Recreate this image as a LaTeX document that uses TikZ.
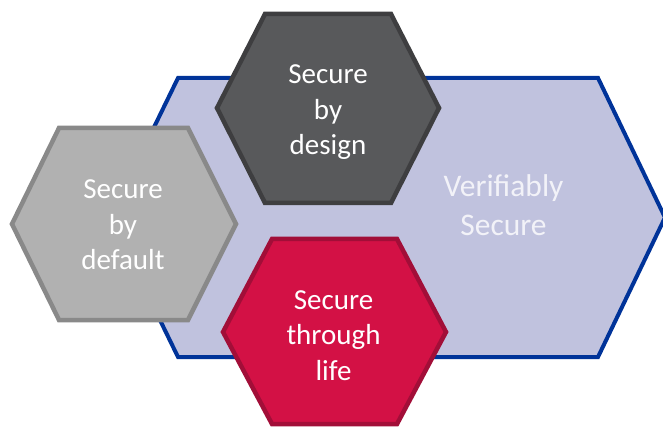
\documentclass[tikz,border=0pt]{standalone}
\usepackage{fontspec}
\setmainfont{Carlito}
\definecolor{lavfill}{RGB}{192,194,222}
\definecolor{lavline}{RGB}{0,51,153}
\definecolor{darkfill}{RGB}{88,89,91}
\definecolor{darkline}{RGB}{62,62,64}
\definecolor{grayfill}{RGB}{177,177,177}
\definecolor{grayline}{RGB}{137,137,137}
\definecolor{redfill}{RGB}{211,17,69}
\definecolor{redline}{RGB}{162,14,56}
\definecolor{paletext}{RGB}{242,242,248}
\begin{document}
\begin{tikzpicture}[x=1pt,y=-1pt,
  hexa/.style={line width=4.5pt,line join=miter},
  lbl/.style={anchor=base,align=center,inner sep=0pt,text=white,font=\fontsize{29}{35.5}\selectfont},
  lblv/.style={anchor=base,align=center,inner sep=0pt,text=paletext,font=\fontsize{31.5}{39}\selectfont}]
\useasboundingbox (0,0) rectangle (663,427);
% large hexagon
\draw[hexa,line width=4pt,fill=lavfill,draw=lavline]
  (178,78) -- (598,78) -- (665,217.5) -- (598,357) -- (178,357) -- (110,217.5) -- cycle;
% secure by default
\draw[hexa,fill=grayfill,draw=grayline]
  (59,128) -- (188,128) -- (236,224) -- (188,320) -- (59,320) -- (12,224) -- cycle;
% secure by design
\draw[hexa,fill=darkfill,draw=darkline]
  (265,14) -- (391,14) -- (439,108) -- (391,203) -- (265,203) -- (217,108) -- cycle;
% secure through life
\draw[hexa,fill=redfill,draw=redline]
  (272,239) -- (397,239) -- (446,332) -- (397,424) -- (272,424) -- (223,332) -- cycle;
\node[lblv] (verif) at (503.5,236) {Verifiably\\Secure};
\node[lbl] (default) at (123,270) {Secure\\by\\default};
\node[lbl] (design) at (328,155) {Secure\\by\\design};
\node[lbl] (life) at (333.5,380) {Secure\\through\\life};
\end{tikzpicture}
\end{document}
